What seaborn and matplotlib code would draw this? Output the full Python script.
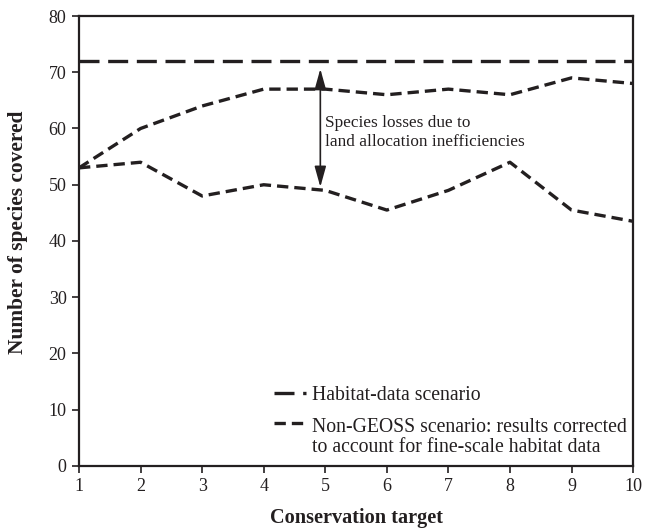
import matplotlib
matplotlib.use("Agg")
import matplotlib.pyplot as plt
import numpy as np
import pandas as pd
import seaborn as sns
from matplotlib.legend_handler import HandlerLine2D

# data
targets = [1, 2, 3, 4, 5, 6, 7, 8, 9, 10]
habitat_data = [72, 72, 72, 72, 72, 72, 72, 72, 72, 72]
non_geoss = [53, 60, 64, 67, 67, 66, 67, 66, 69, 68]
non_geoss_corrected = [53, 54, 48, 50, 49, 45.5, 49, 54, 45.5, 43.5]

INK = "#231f20"

sns.set_theme(style="white")
plt.rcParams["font.family"] = ["Liberation Serif", "DejaVu Serif"]
plt.rcParams["mathtext.fontset"] = "stix"


class FirstLineHandler(HandlerLine2D):
    """Put the legend line level with the first text line."""

    def __init__(self, shift=0.0, **kw):
        super().__init__(**kw)
        self.shift = shift

    def create_artists(self, legend, orig_handle, xdescent, ydescent,
                       width, height, fontsize, trans):
        arts = super().create_artists(legend, orig_handle, xdescent, ydescent,
                                      width, height, fontsize, trans)
        for a in arts:
            a.set_ydata(np.asarray(a.get_ydata(), dtype=float) + self.shift * fontsize)
        return arts


df = pd.DataFrame({
    "target": targets,
    "habitat": habitat_data,
    "nongeoss": non_geoss,
    "corrected": non_geoss_corrected,
})

fig = plt.figure(figsize=(6.54, 5.30), dpi=100)
ax = fig.add_axes([0.1208, 0.1208, 0.8472, 0.849])

sns.lineplot(data=df, x="target", y="habitat", ax=ax, color=INK, lw=2.4,
             label="Habitat-data scenario")
sns.lineplot(data=df, x="target", y="nongeoss", ax=ax, color=INK, lw=2.4,
             label="_nolegend_")
sns.lineplot(data=df, x="target", y="corrected", ax=ax, color=INK, lw=2.4,
             label="Non-GEOSS scenario: results corrected\nto account for fine-scale habitat data")
lines = ax.get_lines()
lines[0].set_dashes((6, 2.6))
lines[1].set_dashes((3.4, 1.8))
lines[2].set_dashes((3.4, 1.8))
for ln in lines:
    ln.set_dash_capstyle("butt")

ax.annotate("", xy=(4.92, 70.6), xytext=(4.92, 49.6),
            arrowprops=dict(arrowstyle="<|-|>,head_length=0.9,head_width=0.25",
                            color=INK, lw=1.2, mutation_scale=14,
                            shrinkA=0, shrinkB=0))
ax.text(5.0, 59.3, "Species losses due to\nland allocation inefficiencies",
        fontsize=12.4, color=INK, ha="left", va="center", linespacing=1.2)

ax.set_xlim(1, 10)
ax.set_ylim(0, 80)
ax.set_xticks(range(1, 11))
ax.set_yticks(range(0, 81, 10))
ax.tick_params(axis="both", direction="out", length=5, width=1.2, color=INK,
               labelsize=13, labelcolor=INK, pad=4,
               bottom=True, left=True, top=False, right=False)
for sp in ax.spines.values():
    sp.set_color(INK)
    sp.set_linewidth(1.6)

ax.set_xlabel("Conservation target", fontsize=14.6, fontweight="bold", color=INK, labelpad=9)
ax.set_ylabel("Number of species covered", fontsize=15.4, fontweight="bold", color=INK)
ax.yaxis.set_label_coords(-0.092, 0.52)

handles, labels = ax.get_legend_handles_labels()
leg = ax.legend(handles, labels, loc="lower left", bbox_to_anchor=(0.352, 0.02),
                frameon=False, fontsize=14.2, handlelength=1.62, handletextpad=0.3,
                borderpad=0, borderaxespad=0, labelspacing=0.65,
                handler_map={handles[1]: FirstLineHandler(shift=0.72)})
for t in leg.get_texts():
    t.set_color(INK)
    t.set_linespacing(1.1)

fig.savefig("out.png", dpi=100)
